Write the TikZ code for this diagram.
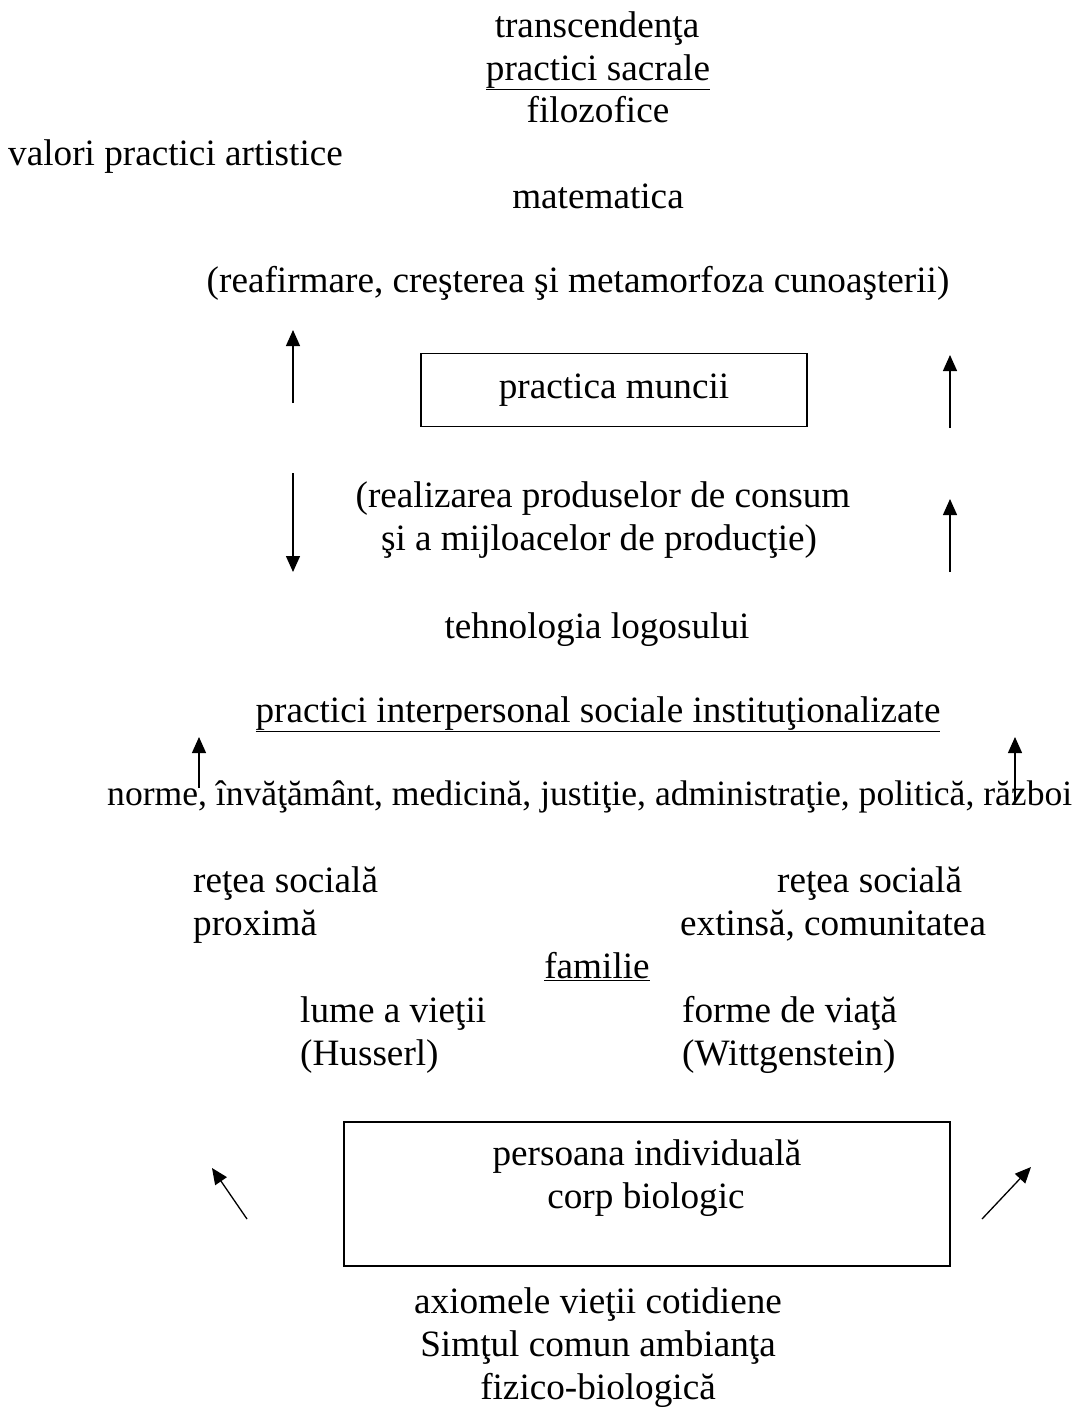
\documentclass[tikz,border=0pt]{standalone}
\usepackage{fontspec}
\setmainfont{Liberation Serif}
\usetikzlibrary{arrows.meta}
\tikzset{
  txt/.style={inner sep=0pt, anchor=base},
  ltxt/.style={inner sep=0pt, anchor=base west},
  cadru/.style={draw, line width=1.2pt, inner sep=0pt},
  sag/.style={line width=1.3pt, -{Triangle[length=16pt,width=14pt]}}
}
\begin{document}
\begin{tikzpicture}[x=1pt,y=-1pt]
\fontsize{37.2}{43}\selectfont
\useasboundingbox (0,0) rectangle (1086,1409);

% partea de sus
\node[txt](transc) at (597, 37) {transcendenţa};
\node[txt](sacr) at (598, 80) {\underline{practici sacrale}};
\node[txt](filoz) at (598, 122) {filozofice};
\node[ltxt](valori) at (8, 165) {valori practici artistice};
\node[txt](matem) at (598, 208) {matematica};
\node[txt](reaf) at (578, 292) {(reafirmare, creşterea şi metamorfoza cunoaşterii)};

% practica muncii
\node[cadru, minimum width=386pt, minimum height=73pt](munca) at (614, 390) {practica muncii};
\node[txt](realiz1) at (603, 507) {(realizarea produselor de consum};
\node[txt](realiz2) at (599, 550) {şi a mijloacelor de producţie)};

\coordinate (a1) at (293, 403); \coordinate (a1v) at (293, 330);
\coordinate (a2) at (293, 473); \coordinate (a2v) at (293, 572);
\coordinate (a3) at (950, 428); \coordinate (a3v) at (950, 355);
\coordinate (a4) at (950, 572); \coordinate (a4v) at (950, 499);
\draw[sag] (a1) -- (a1v);
\draw[sag] (a2) -- (a2v);
\draw[sag] (a3) -- (a3v);
\draw[sag] (a4) -- (a4v);

% practici sociale
\node[txt](logos) at (597, 638) {tehnologia logosului};
\node[txt](inst) at (598, 722) {\underline{practici interpersonal sociale instituţionalizate}};
\node[ltxt](norme) at (107, 805) {\fontsize{35.6}{43}\selectfont norme, învăţământ, medicină, justiţie, administraţie, politică, război};

\coordinate (b1) at (199, 788); \coordinate (b1v) at (199, 737);
\coordinate (b2) at (1015, 800); \coordinate (b2v) at (1015, 737);
\draw[sag] (b1) -- (b1v);
\draw[sag] (b2) -- (b2v);

% familie
\node[ltxt](retea1) at (193, 892) {reţea socială};
\node[ltxt](prox) at (193, 935) {proximă};
\node[ltxt](retea2) at (777, 892) {reţea socială};
\node[ltxt](ext) at (680, 935) {extinsă, comunitatea};
\node[txt](fam) at (597, 978) {\underline{familie}};
\node[ltxt](lume) at (300, 1022) {lume a vieţii};
\node[ltxt](huss) at (300, 1065) {(Husserl)};
\node[ltxt](forme) at (682, 1022) {forme de viaţă};
\node[ltxt](witt) at (682, 1065) {(Wittgenstein)};

% persoana
\node[cadru, minimum width=606pt, minimum height=144pt](pers) at (647, 1194) {};
\node[txt](indiv) at (647, 1165) {persoana individuală};
\node[txt](corp) at (646, 1208) {corp biologic};

\coordinate (c1) at (247, 1219); \coordinate (c1v) at (212, 1168);
\coordinate (c2) at (982, 1219); \coordinate (c2v) at (1031, 1167);
\draw[sag] (c1) -- (c1v);
\draw[sag] (c2) -- (c2v);

% jos
\node[txt](axiom) at (598, 1313) {axiomele vieţii cotidiene};
\node[txt](simt) at (598, 1356) {Simţul comun ambianţa};
\node[txt](fizic) at (598, 1399) {fizico-biologică};
\end{tikzpicture}
\end{document}
